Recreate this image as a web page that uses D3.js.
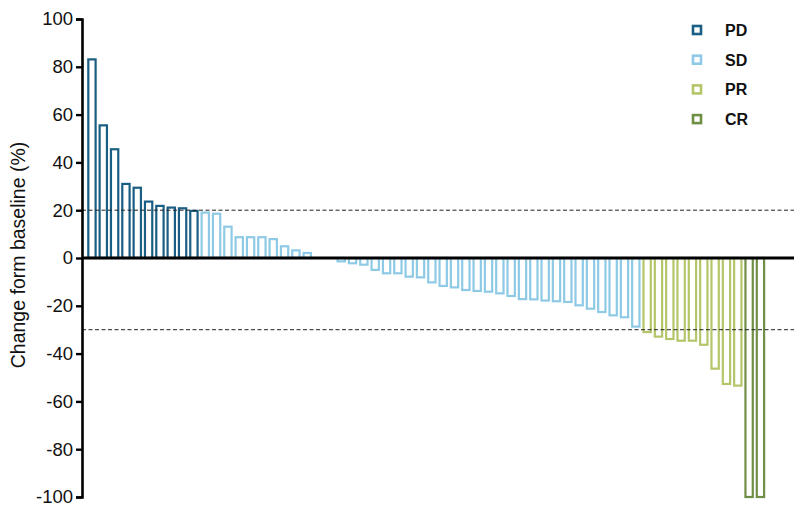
<!DOCTYPE html>
<html>
<head>
<meta charset="utf-8">
<script src="https://cdn.jsdelivr.net/npm/d3@7/dist/d3.min.js"></script>
<style>
html,body{margin:0;padding:0;background:#fff;}
svg{display:block;font-family:"Liberation Sans",Arial,Helvetica,sans-serif;}
</style>
</head>
<body>
<svg id="chart" width="804" height="516"></svg>
<script>
// ---- data ----
const responses = ["PD","SD","PR","CR"];
const pdValues = [83.1, 55.5, 45.5, 31.0, 29.4, 23.6, 21.8, 21.1, 20.8, 19.7];
const sdValues = [19.0, 18.5, 13.1, 8.7, 8.7, 8.7, 7.9, 4.9, 3.2, 2.1, 0, 0,
  -1.4, -2.2, -2.8, -5.0, -6.4, -6.4, -7.8, -8.1, -10.2, -11.7, -12.3, -13.4,
  -13.8, -14.1, -14.8, -15.9, -17.2, -17.3, -17.8, -18.1, -18.4, -19.8, -21.2,
  -22.6, -24.0, -24.8, -28.7];
const prValues = [-31.0, -32.9, -33.9, -34.6, -34.6, -36.3, -46.3, -52.7, -53.4];
const crValues = [-100, -100];
const yTicks = [-100, -80, -60, -40, -20, 0, 20, 40, 60, 80, 100];
const refLines = [20, -30];
const yLabel = "Change form baseline (%)";
const colors = {PD:"#1b5e84", SD:"#8ecae6", PR:"#b4c66a", CR:"#6e8f45"};

const rows = [];
[[pdValues,"PD"],[sdValues,"SD"],[prValues,"PR"],[crValues,"CR"]].forEach(([arr,g])=>{
  arr.forEach(v=>rows.push({id: rows.length, value: v, group: g}));
});

// ---- layout ----
const svg = d3.select("#chart");
const axisX = 82, plotRight = 794;
const x = d3.scaleBand().domain(rows.map(d=>d.id)).range([88.3, 764.1]).paddingInner(0.355).paddingOuter(0);
const y = d3.scaleLinear().domain([-100, 100]).range([497, 19]);

// bars
svg.append("g").selectAll("rect").data(rows).join("rect")
  .attr("x", d=>x(d.id))
  .attr("y", d=>y(Math.max(0,d.value)))
  .attr("width", x.bandwidth())
  .attr("height", d=>Math.abs(y(d.value)-y(0)))
  .attr("fill", "#fff")
  .attr("stroke", d=>colors[d.group])
  .attr("stroke-width", 2.2);

// reference dashed lines
svg.append("g").selectAll("line").data(refLines).join("line")
  .attr("x1", axisX).attr("x2", plotRight)
  .attr("y1", d=>y(d)).attr("y2", d=>y(d))
  .attr("stroke", "#222").attr("stroke-width", 1)
  .attr("stroke-dasharray", "4,2.5");

// zero line
svg.append("line")
  .attr("x1", axisX).attr("x2", plotRight)
  .attr("y1", y(0)).attr("y2", y(0))
  .attr("stroke", "#000").attr("stroke-width", 3.2);

// y axis
const yAxis = svg.append("g")
  .attr("transform", `translate(${axisX},0)`)
  .call(d3.axisLeft(y).tickValues(yTicks).tickSize(6).tickPadding(3).tickFormat(d=>String(d)));
yAxis.select(".domain").attr("stroke", "#000").attr("stroke-width", 2.6);
yAxis.selectAll(".tick line").attr("stroke", "#000").attr("stroke-width", 2.4);
yAxis.selectAll(".tick text").attr("fill", "#111").attr("font-size", 18.5)
  .attr("font-family", "'Liberation Sans', Arial, sans-serif");

// y label
svg.append("text")
  .attr("transform", `translate(25,255) rotate(-90)`)
  .attr("text-anchor", "middle")
  .attr("font-size", 19.5)
  .attr("fill", "#111")
  .text(yLabel);

// legend
const lg = svg.append("g").selectAll("g").data(responses).join("g")
  .attr("transform", (d,i)=>`translate(692,${25 + i*29.7})`);
lg.append("rect").attr("x",1).attr("y",1).attr("width",8).attr("height",8)
  .attr("fill","#fff").attr("stroke", d=>colors[d]).attr("stroke-width", 2.6);
lg.append("text").attr("x", 33).attr("y", 11).attr("font-size", 16)
  .attr("font-weight", "bold").attr("fill", "#111").text(d=>d);
</script>
</body>
</html>
